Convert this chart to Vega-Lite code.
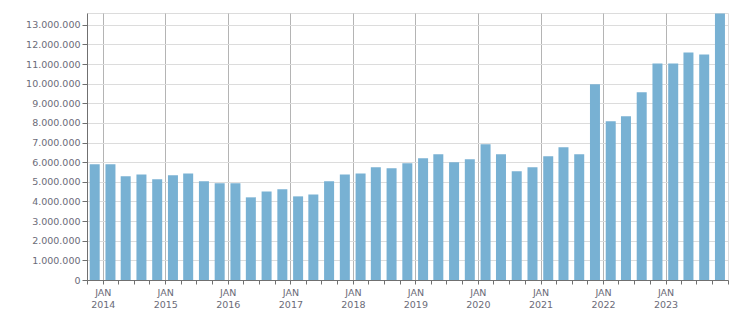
{
  "$schema": "https://vega.github.io/schema/vega-lite/v6.json",
  "width": 641,
  "height": 267,
  "autosize": {"type": "none"},
  "padding": {"left": 87, "top": 13, "right": 23, "bottom": 33},
  "background": "white",
  "config": {
    "locale": {"number": {"decimal": ",", "thousands": ".", "grouping": [3], "currency": ["", " €"]}},
    "view": {"stroke": "#dcdcdc", "strokeWidth": 1},
    "font": "DejaVu Sans"
  },
  "data": {
    "values": [
      {"date": "2013-11-15", "value": 5900000},
      {"date": "2014-02-15", "value": 5900000},
      {"date": "2014-05-15", "value": 5280000},
      {"date": "2014-08-15", "value": 5380000},
      {"date": "2014-11-15", "value": 5130000},
      {"date": "2015-02-15", "value": 5330000},
      {"date": "2015-05-15", "value": 5430000},
      {"date": "2015-08-15", "value": 5030000},
      {"date": "2015-11-15", "value": 4930000},
      {"date": "2016-02-15", "value": 4930000},
      {"date": "2016-05-15", "value": 4210000},
      {"date": "2016-08-15", "value": 4510000},
      {"date": "2016-11-15", "value": 4620000},
      {"date": "2017-02-15", "value": 4260000},
      {"date": "2017-05-15", "value": 4360000},
      {"date": "2017-08-15", "value": 5030000},
      {"date": "2017-11-15", "value": 5380000},
      {"date": "2018-02-15", "value": 5430000},
      {"date": "2018-05-15", "value": 5740000},
      {"date": "2018-08-15", "value": 5690000},
      {"date": "2018-11-15", "value": 5950000},
      {"date": "2019-02-15", "value": 6200000},
      {"date": "2019-05-15", "value": 6410000},
      {"date": "2019-08-15", "value": 6000000},
      {"date": "2019-11-15", "value": 6150000},
      {"date": "2020-02-15", "value": 6920000},
      {"date": "2020-05-15", "value": 6410000},
      {"date": "2020-08-15", "value": 5540000},
      {"date": "2020-11-15", "value": 5740000},
      {"date": "2021-02-15", "value": 6300000},
      {"date": "2021-05-15", "value": 6760000},
      {"date": "2021-08-15", "value": 6410000},
      {"date": "2021-11-15", "value": 9970000},
      {"date": "2022-02-15", "value": 8080000},
      {"date": "2022-05-15", "value": 8340000},
      {"date": "2022-08-15", "value": 9560000},
      {"date": "2022-11-15", "value": 11030000},
      {"date": "2023-02-15", "value": 11030000},
      {"date": "2023-05-15", "value": 11590000},
      {"date": "2023-08-15", "value": 11490000},
      {"date": "2023-11-15", "value": 13580000}
    ]
  },
  "mark": {"type": "bar", "size": 10, "color": "#78b1d3"},
  "encoding": {
    "x": {
      "field": "date",
      "type": "temporal",
      "title": null,
      "scale": {
        "type": "utc",
        "domain": [1380585600000, 1704067200000],
        "nice": false,
        "padding": 0
      },
      "axis": {
        "tickCount": {"interval": "month", "step": 3},
        "labelExpr": "utcmonth(datum.value) == 0 && utcyear(datum.value) < 2024 ? ['JAN', utcFormat(datum.value, '%Y')] : ''",
        "labelFont": "DejaVu Sans",
        "labelFontSize": 9.5,
        "labelColor": "#6b6b78",
        "labelLineHeight": 12,
        "labelPadding": 3,
        "labelOverlap": false,
        "labelFlush": false,
        "domainColor": "#707070",
        "tickColor": "#707070",
        "tickSize": 4,
        "grid": true,
        "gridColor": "#b4b4b4",
        "gridOpacity": {"condition": {"test": "utcmonth(datum.value) == 0 && utcyear(datum.value) < 2024", "value": 1}, "value": 0}
      }
    },
    "y": {
      "field": "value",
      "type": "quantitative",
      "title": null,
      "scale": {"domain": [0, 13600000], "nice": false},
      "axis": {
        "values": [0, 1000000, 2000000, 3000000, 4000000, 5000000, 6000000, 7000000, 8000000, 9000000, 10000000, 11000000, 12000000, 13000000],
        "format": ",d",
        "labelFont": "DejaVu Sans",
        "labelFontSize": 9.5,
        "labelColor": "#6b6b78",
        "labelPadding": 2,
        "domainColor": "#707070",
        "tickColor": "#707070",
        "tickSize": 5,
        "gridColor": "#dcdcdc"
      }
    }
  }
}
